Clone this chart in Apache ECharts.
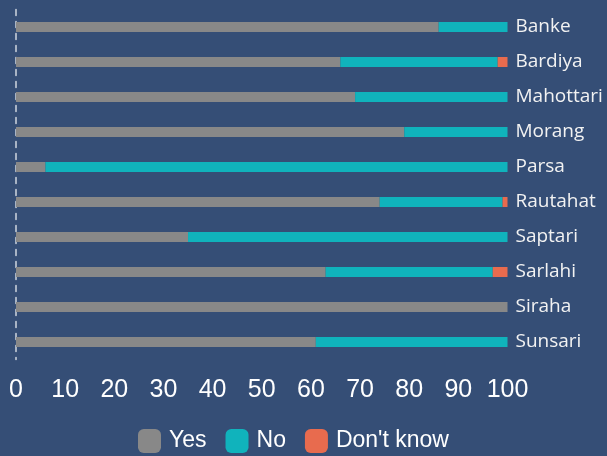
<!DOCTYPE html>
<html>
<head>
<meta charset="utf-8">
<script src="https://cdn.jsdelivr.net/npm/echarts@6/dist/echarts.min.js"></script>
<style>
  html, body { margin: 0; padding: 0; background: #354e76; }
  #chart { width: 607px; height: 456px; }
</style>
</head>
<body>
<div id="chart"></div>
<script>
// Districts, top to bottom
const districts = ['Banke', 'Bardiya', 'Mahottari', 'Morang', 'Parsa', 'Rautahat', 'Saptari', 'Sarlahi', 'Siraha', 'Sunsari'];
// Share of answers, percent
const yesValues = [86, 66, 69, 79, 6, 74, 35, 63, 100, 61];
const noValues = [14, 32, 31, 21, 94, 25, 65, 34, 0, 39];
const dontKnowValues = [0, 2, 0, 0, 0, 1, 0, 3, 0, 0];
const xTicks = [0, 10, 20, 30, 40, 50, 60, 70, 80, 90, 100];

const numFont = "'Liberation Sans', Arial, sans-serif";
const labelFont = "'Open Sans', 'Noto Sans', sans-serif";

const chart = echarts.init(document.getElementById('chart'));

const barSeries = (name, data, color) => ({
  name: name,
  type: 'bar',
  stack: 'total',
  data: data,
  barWidth: 10,
  itemStyle: { color: color },
  emphasis: { disabled: true }
});

chart.setOption({
  backgroundColor: '#354e76',
  animation: false,
  grid: { left: 16, top: 9.5, width: 491.5, height: 350, containLabel: false },
  legend: {
    left: 138,
    top: 429,
    padding: 0,
    itemWidth: 23,
    itemHeight: 24,
    itemGap: 19,
    icon: 'roundRect',
    textStyle: { color: '#ffffff', fontFamily: numFont, fontSize: 23, padding: [0, 0, 0, 3] },
    data: ['Yes', 'No', "Don't know"]
  },
  xAxis: {
    type: 'value',
    min: 0,
    max: 100,
    interval: 10,
    axisLine: { show: false },
    axisTick: { show: false },
    splitLine: { show: false },
    axisLabel: {
      color: '#ffffff',
      fontFamily: numFont,
      fontSize: 25,
      margin: 18,
      formatter: v => (xTicks.includes(v) ? String(v) : '')
    }
  },
  yAxis: [
    {
      type: 'category',
      data: districts,
      inverse: true,
      position: 'left',
      axisLine: { show: true, lineStyle: { color: '#d0d6e0', width: 1.5, type: [6, 6] } },
      axisTick: { show: false },
      axisLabel: { show: false },
      splitLine: { show: false }
    },
    {
      type: 'category',
      data: districts,
      inverse: true,
      position: 'right',
      axisLine: { show: false },
      axisTick: { show: false },
      splitLine: { show: false },
      axisLabel: {
        color: '#f2f2f2',
        fontFamily: labelFont,
        fontSize: 19,
        margin: 8,
        align: 'left'
      }
    }
  ],
  series: [
    barSeries('Yes', yesValues, '#888888'),
    barSeries('No', noValues, '#10b3bc'),
    barSeries("Don't know", dontKnowValues, '#e86b4e')
  ]
});
</script>
</body>
</html>
